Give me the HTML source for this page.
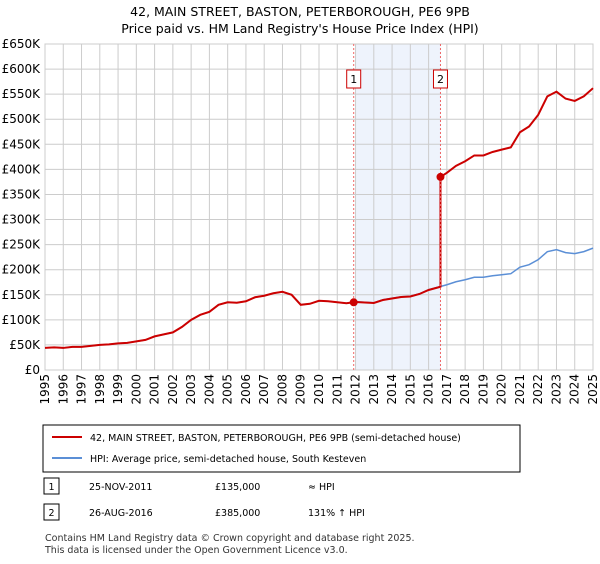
<!DOCTYPE html>
<html><head><meta charset="utf-8"><style>
body{margin:0;background:#fff;font-family:"DejaVu Sans",sans-serif;}
svg text{font-family:"DejaVu Sans",sans-serif;}
</style></head><body>
<svg width="600" height="560" xmlns="http://www.w3.org/2000/svg">
<text x="300" y="16" text-anchor="middle" font-size="12.5">42, MAIN STREET, BASTON, PETERBOROUGH, PE6 9PB</text>
<text x="300" y="33" text-anchor="middle" font-size="12.5">Price paid vs. HM Land Registry's House Price Index (HPI)</text>
<g id="plot"></g>
<rect x="43" y="425" width="477" height="47" fill="#fff" stroke="#000" stroke-width="1"/>
<line x1="52" y1="437" x2="82" y2="437" stroke="#cc0000" stroke-width="2"/>
<text x="90" y="441" font-size="9.5">42, MAIN STREET, BASTON, PETERBOROUGH, PE6 9PB (semi-detached house)</text>
<line x1="52" y1="458" x2="82" y2="458" stroke="#5b8fd6" stroke-width="2"/>
<text x="90" y="462" font-size="9.5">HPI: Average price, semi-detached house, South Kesteven</text>
<g>
<rect x="44" y="478" width="15" height="16" fill="#fff" stroke="#000"/><text x="51.5" y="490" font-size="9.5" text-anchor="middle">1</text>
<text x="89" y="490" font-size="9.5">25-NOV-2011</text><text x="215" y="490" font-size="9.5">£135,000</text><text x="308" y="490" font-size="9.5">≈ HPI</text></g>
<g>
<rect x="44" y="504" width="15" height="16" fill="#fff" stroke="#000"/><text x="51.5" y="516" font-size="9.5" text-anchor="middle">2</text>
<text x="89" y="516" font-size="9.5">26-AUG-2016</text><text x="215" y="516" font-size="9.5">£385,000</text><text x="308" y="516" font-size="9.5">131% ↑ HPI</text></g>
<text x="45" y="541" font-size="9.5" fill="#333">Contains HM Land Registry data © Crown copyright and database right 2025.</text>
<text x="45" y="553" font-size="9.5" fill="#333">This data is licensed under the Open Government Licence v3.0.</text>
</svg>
<script>
const yTicks=[0,50,100,150,200,250,300,350,400,450,500,550,600,650];
const years=[1995,1996,1997,1998,1999,2000,2001,2002,2003,2004,2005,2006,2007,2008,2009,2010,2011,2012,2013,2014,2015,2016,2017,2018,2019,2020,2021,2022,2023,2024,2025];
const hpiT=[1995,1995.5,1996,1996.5,1997,1997.5,1998,1998.5,1999,1999.5,2000,2000.5,2001,2001.5,2002,2002.5,2003,2003.5,2004,2004.5,2005,2005.5,2006,2006.5,2007,2007.5,2008,2008.5,2009,2009.5,2010,2010.5,2011,2011.5,2012,2012.5,2013,2013.5,2014,2014.5,2015,2015.5,2016,2016.5,2017,2017.5,2018,2018.5,2019,2019.5,2020,2020.5,2021,2021.5,2022,2022.5,2023,2023.5,2024,2024.5,2025];
const hpiV=[44,45,44,46,46,48,50,51,53,54,57,60,67,71,75,86,100,110,116,130,135,134,137,145,148,153,156,150,130,132,138,137,135,133,136,135,134,140,143,146,147,152,160,165,170,176,180,185,185,188,190,192,205,210,220,236,240,234,232,236,243];
const saleT=[2011.9,2016.65];
const saleV=[135,385];
const X=t=>45+(t-1995)*(548/30), Y=v=>370-v*(326/650);
const NS="http://www.w3.org/2000/svg", g=document.getElementById('plot');
function mk(tag,a,p){const e=document.createElementNS(NS,tag);for(const k in a)e.setAttribute(k,a[k]);(p||g).appendChild(e);return e;}
let sh=mk('rect',{x:X(2012),y:Y(650),width:X(2016.65)-X(2012),height:Y(0)-Y(650),fill:'#eef3fc'});


yTicks.forEach(v=>{let l=mk('line',{x1:45,x2:593,y1:Y(v),y2:Y(v),stroke:'#ccc'});


let t=mk('text',{x:40,y:Y(v)+4,'text-anchor':'end','font-size':12});t.textContent=v===0?'£0':'£'+v+'K';

});
years.forEach(yr=>{let l=mk('line',{x1:X(yr),x2:X(yr),y1:Y(650),y2:Y(0),stroke:'#ccc'});


let t=mk('text',{x:0,y:0,'text-anchor':'end','font-size':12,transform:`translate(${X(yr)+4},374) rotate(-90)`});t.textContent=yr;

});
let ax=mk('rect',{x:45,y:Y(650),width:548,height:Y(0)-Y(650),fill:'none',stroke:'#ccc'});


const hpiAt=t=>{for(let i=1;i<hpiT.length;i++)if(t<=hpiT[i]){const f=(t-hpiT[i-1])/(hpiT[i]-hpiT[i-1]);return hpiV[i-1]+f*(hpiV[i]-hpiV[i-1]);}return hpiV[hpiV.length-1];};
let hp=mk('polyline',{points:hpiT.map((t,i)=>X(t)+','+Y(hpiV[i])).join(' '),fill:'none',stroke:'#5b8fd6','stroke-width':1.5});


let pts=[];
hpiT.forEach((t,i)=>{let v=hpiV[i];if(t<saleT[0])pts.push([t,v]);});
let r1=saleV[0]/hpiAt(saleT[0]);pts.push([saleT[0],saleV[0]]);
hpiT.forEach((t,i)=>{if(t>saleT[0]&&t<saleT[1])pts.push([t,hpiV[i]*r1]);});
pts.push([saleT[1],hpiAt(saleT[1])*r1]);pts.push([saleT[1],saleV[1]]);
let r2=saleV[1]/hpiAt(saleT[1]);
hpiT.forEach((t,i)=>{if(t>saleT[1])pts.push([t,hpiV[i]*r2]);});
let pl=mk('polyline',{points:pts.map(p=>X(p[0])+','+Y(p[1])).join(' '),fill:'none',stroke:'#cc0000','stroke-width':2});


saleT.forEach((t,i)=>{let l=mk('line',{x1:X(t),x2:X(t),y1:Y(650),y2:Y(0),stroke:'#e66','stroke-dasharray':'2,2'});


let c=mk('circle',{cx:X(t),cy:Y(saleV[i]),r:4,fill:'#cc0000'});


let b=mk('rect',{x:X(t)-7,y:70,width:14,height:18,fill:'#fff',stroke:'#cc0000'});


let tx=mk('text',{x:X(t),y:83,'text-anchor':'middle','font-size':11});tx.textContent=i+1;

});
</script>
</body></html>
